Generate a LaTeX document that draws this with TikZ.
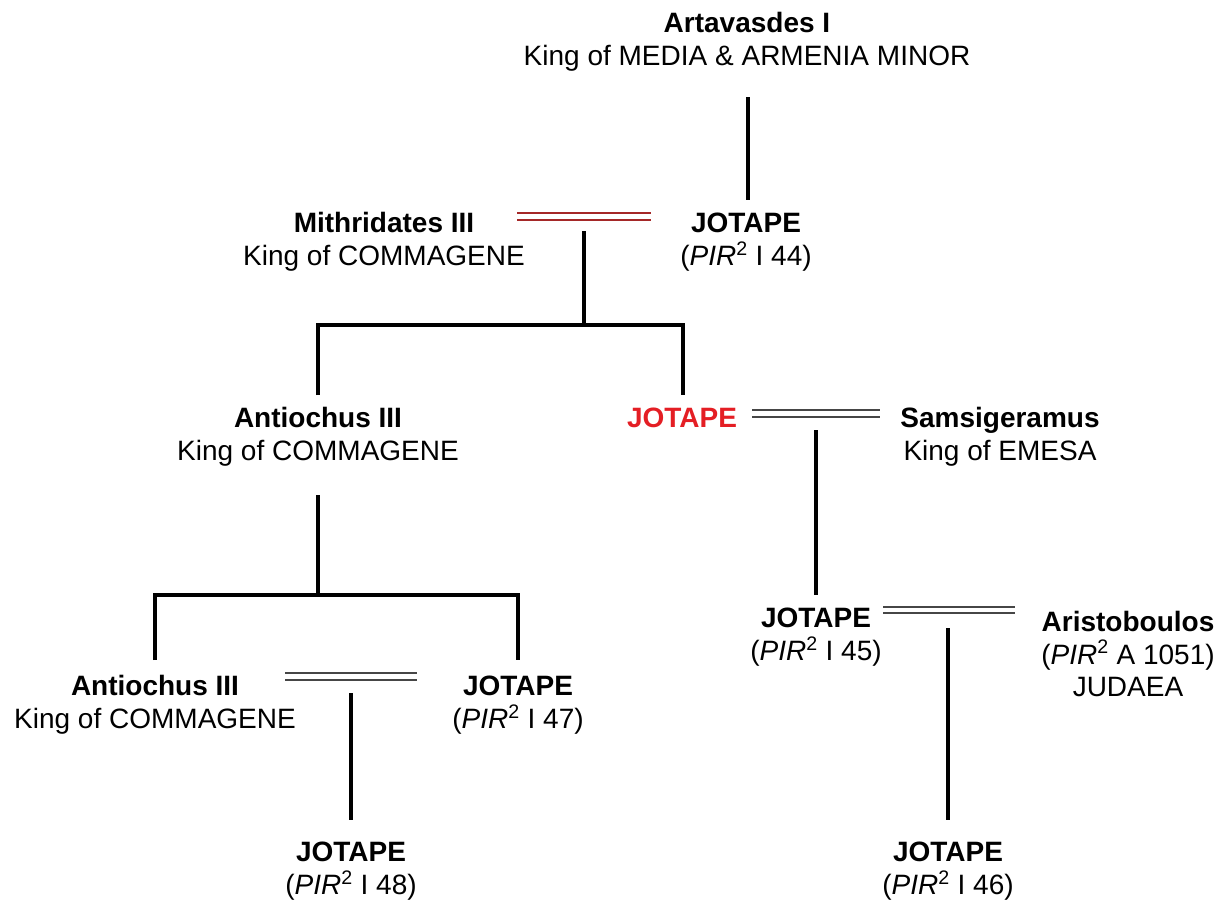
\documentclass[tikz,border=0pt]{standalone}
\usepackage{fontspec}
\setmainfont{Liberation Sans}
\definecolor{marrgray}{RGB}{70,70,70}
\definecolor{marrred}{RGB}{165,40,40}
\definecolor{jred}{RGB}{228,30,36}
\newcommand{\pir}[1]{(\textit{PIR}\textsuperscript{2} #1)}
\begin{document}
\begin{tikzpicture}[x=0.75pt,y=-0.75pt,
  person/.style={align=center, font=\fontsize{21}{24.5}\selectfont, inner sep=0pt},
  stem/.style={line width=2.4pt, black, line join=miter},
  marr/.style={draw=marrgray, double=white, double distance=3.4pt, line width=1.4pt},
]
\useasboundingbox (0,0) rectangle (1227,901);

% people
\node[person] (art)  at (747,42)  {\textbf{Artavasdes I}\\King of MEDIA \& ARMENIA MINOR};
\node[person] (mith) at (384,242) {\textbf{Mithridates III}\\King of COMMAGENE};
\node[person] (j44)  at (746,242) {\textbf{JOTAPE}\\\pir{I 44}};
\node[person] (ant1) at (318,437) {\textbf{Antiochus III}\\King of COMMAGENE};
\node[person, text=jred] (jot) at (682,418) {\textbf{JOTAPE}};
\node[person] (sams) at (1000,437) {\textbf{Samsigeramus}\\King of EMESA};
\node[person] (ant2) at (155,705) {\textbf{Antiochus III}\\King of COMMAGENE};
\node[person] (j47)  at (518,705) {\textbf{JOTAPE}\\\pir{I 47}};
\node[person] (j45)  at (816,637) {\textbf{JOTAPE}\\\pir{I 45}};
\node[person] (aris) at (1128,654) {\textbf{Aristoboulos}\\\pir{A 1051}\\JUDAEA};
\node[person] (j48)  at (351,871) {\textbf{JOTAPE}\\\pir{I 48}};
\node[person] (j46)  at (948,871) {\textbf{JOTAPE}\\\pir{I 46}};

% junction points
\coordinate (art-s)  at (748,97);
\coordinate (j44-n)  at (748,200);
\coordinate (m1-w)   at (517,216.5);
\coordinate (m1-e)   at (651,216.5);
\coordinate (m1-s)   at (584,231);
\coordinate (bar1)   at (584,325);
\coordinate (bar1-w) at (318,325);
\coordinate (bar1-e) at (683,325);
\coordinate (ant1-n) at (318,395);
\coordinate (jot-n)  at (683,395);
\coordinate (m2-w)   at (752,413.5);
\coordinate (m2-e)   at (880,413.5);
\coordinate (m2-s)   at (816,430);
\coordinate (j45-n)  at (816,595);
\coordinate (ant1-s) at (318,495);
\coordinate (bar2)   at (318,595);
\coordinate (bar2-w) at (155,595);
\coordinate (bar2-e) at (518,595);
\coordinate (ant2-n) at (155,660);
\coordinate (j47-n)  at (518,660);
\coordinate (m3-w)   at (285,676.5);
\coordinate (m3-e)   at (417,676.5);
\coordinate (m3-s)   at (351,693);
\coordinate (j48-n)  at (351,820);
\coordinate (m4-w)   at (883,610);
\coordinate (m4-e)   at (1015,610);
\coordinate (m4-s)   at (948,628);
\coordinate (j46-n)  at (948,820);

% descent lines
\draw[stem] (art-s) -- (j44-n);
\draw[stem] (m1-s) -- (bar1);
\draw[stem] (ant1-n) -- (bar1-w) -- (bar1-e) -- (jot-n);
\draw[stem] (m2-s) -- (j45-n);
\draw[stem] (ant1-s) -- (bar2);
\draw[stem] (ant2-n) -- (bar2-w) -- (bar2-e) -- (j47-n);
\draw[stem] (m3-s) -- (j48-n);
\draw[stem] (m4-s) -- (j46-n);

% marriages
\draw[marr, draw=marrred] (m1-w) -- (m1-e);
\draw[marr] (m2-w) -- (m2-e);
\draw[marr] (m3-w) -- (m3-e);
\draw[marr] (m4-w) -- (m4-e);
\end{tikzpicture}
\end{document}
